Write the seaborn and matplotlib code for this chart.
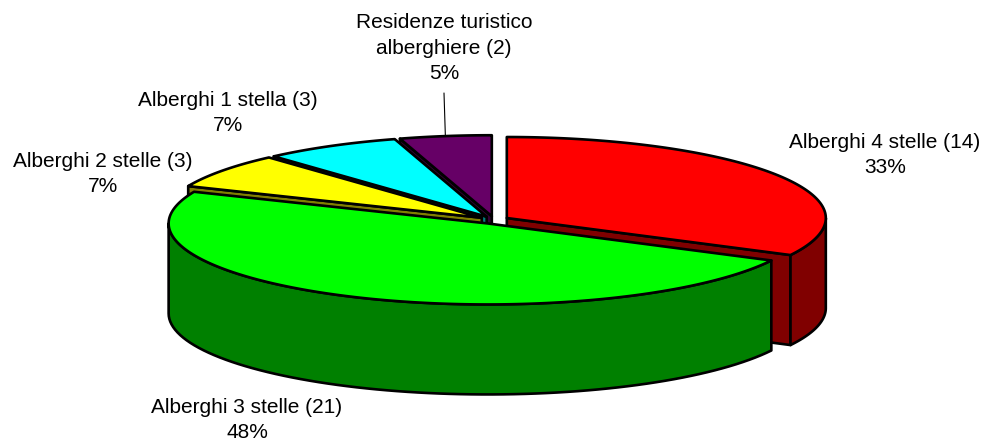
import numpy as np
import matplotlib
matplotlib.use("Agg")
import matplotlib.pyplot as plt
from matplotlib.patches import Polygon
import seaborn as sns

# data
categories = ["Alberghi 4 stelle", "Alberghi 3 stelle", "Alberghi 2 stelle",
              "Alberghi 1 stella", "Residenze turistico\nalberghiere"]
counts = [14, 21, 3, 3, 2]
percent_labels = ["33%", "48%", "7%", "7%", "5%"]
top_colors = ["#FF0000", "#00FF00", "#FFFF00", "#00FFFF", "#660066"]
side_colors = ["#800000", "#008000", "#808000", "#008080", "#330033"]
label_pos = [(885, 155), (247, 420), (103, 174), (228, 113), (444, 48)]

sns.set_theme(style="white")
plt.rcParams["font.family"] = ["Liberation Sans", "DejaVu Sans"]

fig = plt.figure(figsize=(9.84, 4.41), dpi=100)
ax = fig.add_axes([0, 0, 1, 1])
ax.set_xlim(0, 984)
ax.set_ylim(441, 0)
ax.axis("off")

# pie geometry in pixels (y grows downward)
cx, cy, rx, ry, depth, explode = 494, 220, 319, 81, 90, 15

fractions = np.array(counts) / sum(counts)
hi_angles = 90 - 360 * np.concatenate([[0], np.cumsum(fractions)[:-1]])
lo_angles = hi_angles - 360 * fractions


def rim(ox, oy, angles, dz=0.0):
    a = np.radians(np.atleast_1d(angles))
    return np.column_stack([ox + rx * np.cos(a), oy - ry * np.sin(a) + dz])


def wall(ox, oy, a0, a1):
    ang = np.linspace(a0, a1, 80)
    top = rim(ox, oy, ang)
    bottom = rim(ox, oy, ang[::-1], depth)
    return np.vstack([top, bottom])


edge = dict(edgecolor="black", linewidth=1.9, joinstyle="round")
mids = (hi_angles + lo_angles) / 2
order = np.argsort(-np.sin(np.radians(mids)))

for i in order:
    lo, hi, mid = lo_angles[i], hi_angles[i], mids[i]
    ox = cx + explode * np.cos(np.radians(mid))
    oy = cy - explode * np.sin(np.radians(mid)) * ry / rx
    c = np.array([[ox, oy]])

    # radial faces that face the viewer
    for ang, visible in ((hi, np.cos(np.radians(hi)) < -1e-6),
                         (lo, np.cos(np.radians(lo)) > 1e-6)):
        if visible:
            p = rim(ox, oy, ang)
            quad = np.vstack([c, p, p + [0, depth], c + [0, depth]])
            ax.add_patch(Polygon(quad, closed=True, facecolor=side_colors[i], **edge))

    # front part of the outer wall
    for k in (-360, 0, 360):
        a0, a1 = max(lo, -180 + k), min(hi, 0 + k)
        if a1 > a0:
            ax.add_patch(Polygon(wall(ox, oy, a0, a1), closed=True,
                                 facecolor=side_colors[i], **edge))

    # top face
    arc = rim(ox, oy, np.linspace(hi, lo, 200))
    ax.add_patch(Polygon(np.vstack([c, arc]), closed=True,
                         facecolor=top_colors[i], **edge))

# labels
for i, (x, y) in enumerate(label_pos):
    ax.text(x, y, f"{categories[i]} ({counts[i]})\n{percent_labels[i]}",
            ha="center", va="center", fontsize=15, linespacing=1.45,
            color="black")

# leader line for the small slice
i = 4
ox = cx + explode * np.cos(np.radians(mids[i]))
oy = cy - explode * np.sin(np.radians(mids[i])) * ry / rx
tip = rim(ox, oy, mids[i])[0]
ax.plot([444, tip[0]], [93, tip[1]], color="black", linewidth=0.8)

fig.savefig("out.png", dpi=100)
